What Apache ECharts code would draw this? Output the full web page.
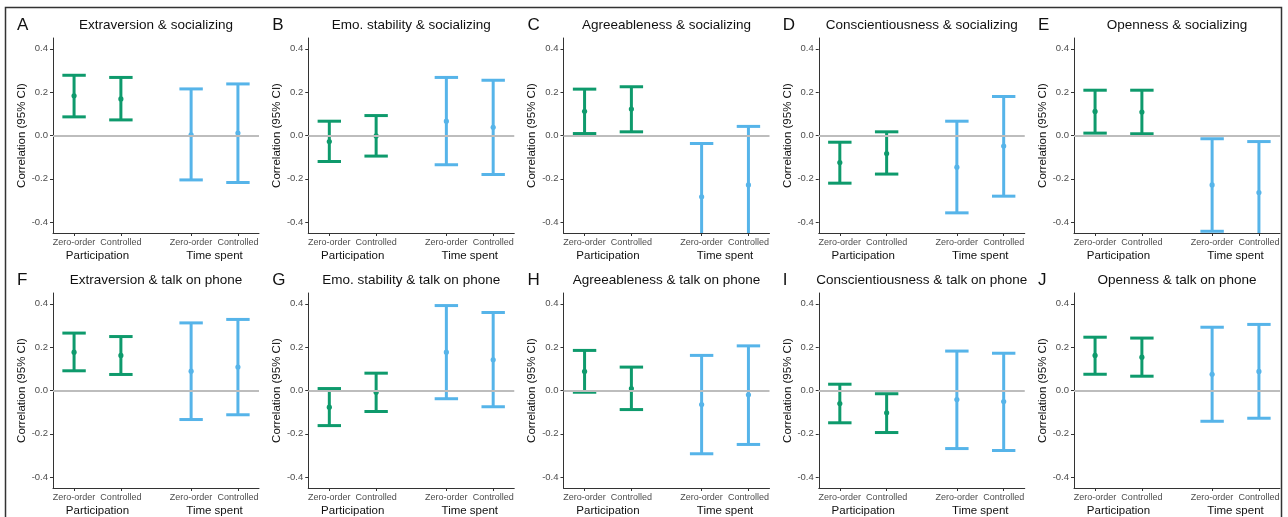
<!DOCTYPE html>
<html>
<head>
<meta charset="utf-8">
<script src="https://cdn.jsdelivr.net/npm/echarts@6/dist/echarts.min.js"></script>
<style>
  html, body { margin: 0; padding: 0; background: #fff; }
  #main { width: 1288px; height: 517px; }
</style>
</head>
<body>
<div id="main"></div>
<script>
// panel headings
const panelLetters = ['A', 'B', 'C', 'D', 'E', 'F', 'G', 'H', 'I', 'J'];
const panelTitles = [
  'Extraversion & socializing', 'Emo. stability & socializing', 'Agreeableness & socializing',
  'Conscientiousness & socializing', 'Openness & socializing',
  'Extraversion & talk on phone', 'Emo. stability & talk on phone', 'Agreeableness & talk on phone',
  'Conscientiousness & talk on phone', 'Openness & talk on phone'
];

// x layout: two estimates per outcome, gap between the groups
const xPositions = [1, 2, 3.5, 4.5];
const tickLabels = ['Zero-order', 'Controlled', 'Zero-order', 'Controlled'];
const groupPositions = [1.5, 4];
const groupLabels = ['Participation', 'Time spent'];
const pointGroup = [0, 0, 1, 1];
const groupColors = ['#0E9A6C', '#56B4E9'];
const yTicks = [-0.4, -0.2, 0, 0.2, 0.4];

// correlation estimates and 95% CI per panel (Zero-order, Controlled, Zero-order, Controlled)
const estimates = [
  [0.183, 0.169, 0.003, 0.011],
  [-0.028, -0.002, 0.066, 0.038],
  [0.112, 0.122, -0.283, -0.228],
  [-0.125, -0.083, -0.146, -0.049],
  [0.111, 0.108, -0.228, -0.263],
  [0.177, 0.162, 0.089, 0.108],
  [-0.077, -0.008, 0.177, 0.142],
  [0.088, 0.009, -0.065, -0.020],
  [-0.060, -0.103, -0.042, -0.051],
  [0.162, 0.154, 0.075, 0.088]
];
const lower = [
  [0.086, 0.072, -0.205, -0.217],
  [-0.120, -0.095, -0.135, -0.180],
  [0.009, 0.017, -0.530, -0.500],
  [-0.220, -0.178, -0.357, -0.280],
  [0.011, 0.008, -0.442, -0.500],
  [0.091, 0.074, -0.134, -0.112],
  [-0.162, -0.097, -0.038, -0.075],
  [-0.008, -0.088, -0.292, -0.249],
  [-0.149, -0.194, -0.268, -0.277],
  [0.075, 0.066, -0.142, -0.128]
];
const upper = [
  [0.278, 0.268, 0.215, 0.238],
  [0.066, 0.092, 0.268, 0.255],
  [0.214, 0.225, -0.037, 0.042],
  [-0.031, 0.017, 0.066, 0.180],
  [0.209, 0.209, -0.015, -0.028],
  [0.265, 0.249, 0.312, 0.328],
  [0.009, 0.080, 0.392, 0.360],
  [0.185, 0.108, 0.162, 0.206],
  [0.029, -0.015, 0.182, 0.172],
  [0.246, 0.242, 0.292, 0.305]
];

const chart = echarts.init(document.getElementById('main'));

const colStep = 255.25;
const rowStep = 255;
const plotW = 206;
const plotH = 195;

function renderErrorBar(params, api) {
  const x = api.value(0);
  const est = api.coord([x, api.value(1)]);
  const lo = api.coord([x, api.value(2)]);
  const hi = api.coord([x, api.value(3)]);
  const half = api.size([0.5, 0])[0] / 2;
  const color = groupColors[api.value(4)];
  const style = { stroke: color, lineWidth: 3 };
  return {
    type: 'group',
    children: [
      { type: 'line', shape: { x1: lo[0], y1: lo[1], x2: hi[0], y2: hi[1] }, style },
      { type: 'line', shape: { x1: hi[0] - half, y1: hi[1], x2: hi[0] + half, y2: hi[1] }, style },
      { type: 'line', shape: { x1: lo[0] - half, y1: lo[1], x2: lo[0] + half, y2: lo[1] }, style },
      { type: 'circle', shape: { cx: est[0], cy: est[1], r: 2.6 }, style: { fill: color } }
    ]
  };
}

const grid = [], xAxis = [], yAxis = [], series = [], title = [];

for (let p = 0; p < 10; p++) {
  const row = Math.floor(p / 5), col = p % 5;
  const left = 53 + col * colStep;
  const top = 38 + row * rowStep;
  grid.push({ left, top, width: plotW, height: plotH });

  xAxis.push({
    gridIndex: p, type: 'value', min: 0.55, max: 4.95, position: 'bottom',
    axisLine: { show: true, onZero: false, lineStyle: { color: '#333', width: 1 } },
    axisTick: { show: true, customValues: xPositions, length: 3, lineStyle: { color: '#333' } },
    axisLabel: {
      customValues: xPositions, margin: 5, fontSize: 9, color: '#4D4D4D',
      formatter: v => tickLabels[xPositions.indexOf(v)]
    },
    splitLine: { show: false }
  });
  xAxis.push({
    gridIndex: p, type: 'value', min: 0.55, max: 4.95, position: 'bottom', offset: 12,
    axisLine: { show: false, onZero: false }, axisTick: { show: false },
    axisLabel: {
      customValues: groupPositions, margin: 5, fontSize: 11.5, color: '#111',
      formatter: v => groupLabels[groupPositions.indexOf(v)]
    },
    splitLine: { show: false }
  });
  yAxis.push({
    gridIndex: p, type: 'value', min: -0.45, max: 0.45,
    name: 'Correlation (95% CI)', nameLocation: 'middle', nameGap: 25,
    nameTextStyle: { fontSize: 11.5, color: '#111' },
    axisLine: { show: true, onZero: false, lineStyle: { color: '#333', width: 1 } },
    axisTick: { show: true, customValues: yTicks, length: 3, lineStyle: { color: '#333' } },
    axisLabel: {
      customValues: yTicks, margin: 5, fontSize: 9.5, color: '#4D4D4D',
      formatter: v => v.toFixed(1)
    },
    splitLine: { show: false }
  });

  // zero reference line
  series.push({
    type: 'line', xAxisIndex: 2 * p, yAxisIndex: p, data: [], z: 1, silent: true,
    markLine: {
      silent: true, symbol: 'none', label: { show: false },
      lineStyle: { color: '#BDBDBD', width: 2, type: 'solid' },
      data: [{ yAxis: 0 }]
    }
  });
  series.push({
    type: 'custom', xAxisIndex: 2 * p, yAxisIndex: p, z: 3, clip: true,
    renderItem: renderErrorBar,
    encode: { x: 0, y: [1, 2, 3] },
    data: xPositions.map((x, i) => [x, estimates[p][i], lower[p][i], upper[p][i], pointGroup[i]])
  });

  title.push({
    text: panelTitles[p], left: left + plotW / 2, top: 18 + row * rowStep, textAlign: 'center',
    padding: 0,
    textStyle: { fontSize: 13.5, fontWeight: 'normal', color: '#111' }
  });
  title.push({
    text: panelLetters[p], left: 17 + col * colStep, top: 17 + row * rowStep, padding: 0,
    textStyle: { fontSize: 17, fontWeight: 'normal', color: '#111' }
  });
}

chart.setOption({
  animation: false,
  textStyle: { fontFamily: 'Liberation Sans, Arial, sans-serif' },
  title, grid, xAxis, yAxis, series,
  graphic: [{
    type: 'rect', silent: true,
    shape: { x: 5.5, y: 7.5, width: 1276, height: 530 },
    style: { fill: 'none', stroke: '#333', lineWidth: 1.5 }
  }]
});
</script>
</body>
</html>
